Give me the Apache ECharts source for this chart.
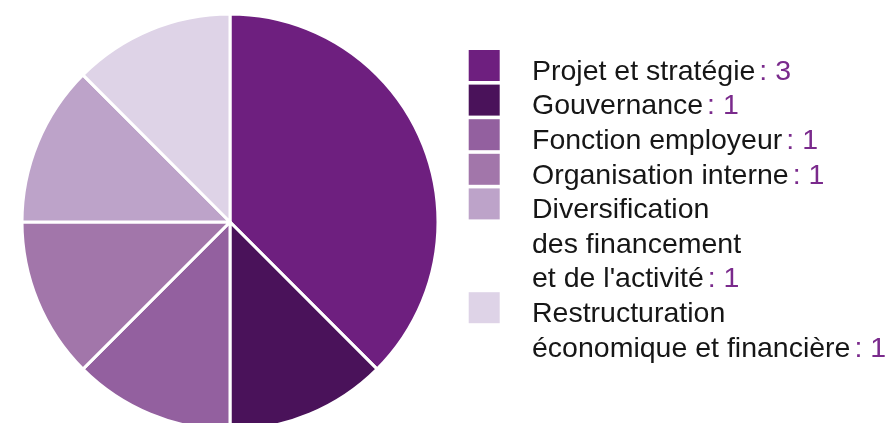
<!DOCTYPE html>
<html>
<head>
<meta charset="utf-8">
<script src="https://cdn.jsdelivr.net/npm/echarts@6/dist/echarts.min.js"></script>
<style>
  html, body { margin: 0; padding: 0; background: #ffffff; }
  #chart { width: 893px; height: 423px; }
</style>
</head>
<body>
<div id="chart"></div>
<script>
// Themes and their counts
const categories = [
  'Projet et stratégie',
  'Gouvernance',
  'Fonction employeur',
  'Organisation interne',
  'Diversification\ndes financement\net de l\'activité',
  'Restructuration\néconomique et financière'
];
const counts = [3, 1, 1, 1, 1, 1];
const sliceColors = ['#6e1f7f', '#4a125a', '#93609f', '#a276aa', '#bda3c9', '#ded3e7'];

// Legend typography
const FONT = '"Liberation Sans", Arial, Helvetica, sans-serif';
const FONT_SIZE = 28.5;
const LINE_H = 34.6;
const ICON = 31;
const LEGEND_LEFT = 468.7;
const LEGEND_FIRST_TOP = 50;
const TEXT_SHIFT = 13;     // pushes the text slightly below the icon centre
const TEXT_INDENT = 27.3;  // space between icon and label

const chart = echarts.init(document.getElementById('chart'), null, { renderer: 'canvas' });

const pieData = categories.map((name, i) => ({
  name: name,
  value: counts[i],
  itemStyle: { color: sliceColors[i] }
}));

// One legend block per entry so that the icon sits beside the first text line
const legends = [];
let lineIndex = 0;
categories.forEach((name, i) => {
  const nLines = name.split('\n').length;
  const padTop = TEXT_SHIFT + (nLines - 1) * LINE_H;
  const blockH = padTop + nLines * LINE_H;
  const bboxTop = Math.min(0, ICON / 2 - blockH / 2);
  const iconTop = LEGEND_FIRST_TOP + lineIndex * LINE_H;
  legends.push({
    show: true,
    orient: 'vertical',
    left: LEGEND_LEFT,
    top: iconTop + bboxTop,
    padding: 0,
    itemGap: 0,
    itemWidth: ICON,
    itemHeight: ICON,
    icon: 'rect',
    selectedMode: false,
    itemStyle: { borderWidth: 0 },
    data: [{ name: name, icon: 'rect' }],
    formatter: function (n) {
      const idx = categories.indexOf(n);
      return n + '{v|: ' + counts[idx] + '}';
    },
    textStyle: {
      color: '#161616',
      fontFamily: FONT,
      fontSize: FONT_SIZE,
      lineHeight: LINE_H,
      padding: [padTop, 0, 0, TEXT_INDENT],
      rich: {
        v: {
          color: '#7a2a8c',
          fontFamily: FONT,
          fontSize: FONT_SIZE,
          lineHeight: LINE_H,
          padding: [0, 0, 0, 4]
        }
      }
    }
  });
  lineIndex += nLines;
});

chart.setOption({
  animation: false,
  backgroundColor: '#ffffff',
  legend: legends,
  series: [{
    type: 'pie',
    center: [230, 222],
    radius: 208,
    startAngle: 90,
    clockwise: true,
    label: { show: false },
    labelLine: { show: false },
    emphasis: { disabled: true },
    itemStyle: { borderColor: '#ffffff', borderWidth: 3 },
    data: pieData
  }]
});
</script>
</body>
</html>
